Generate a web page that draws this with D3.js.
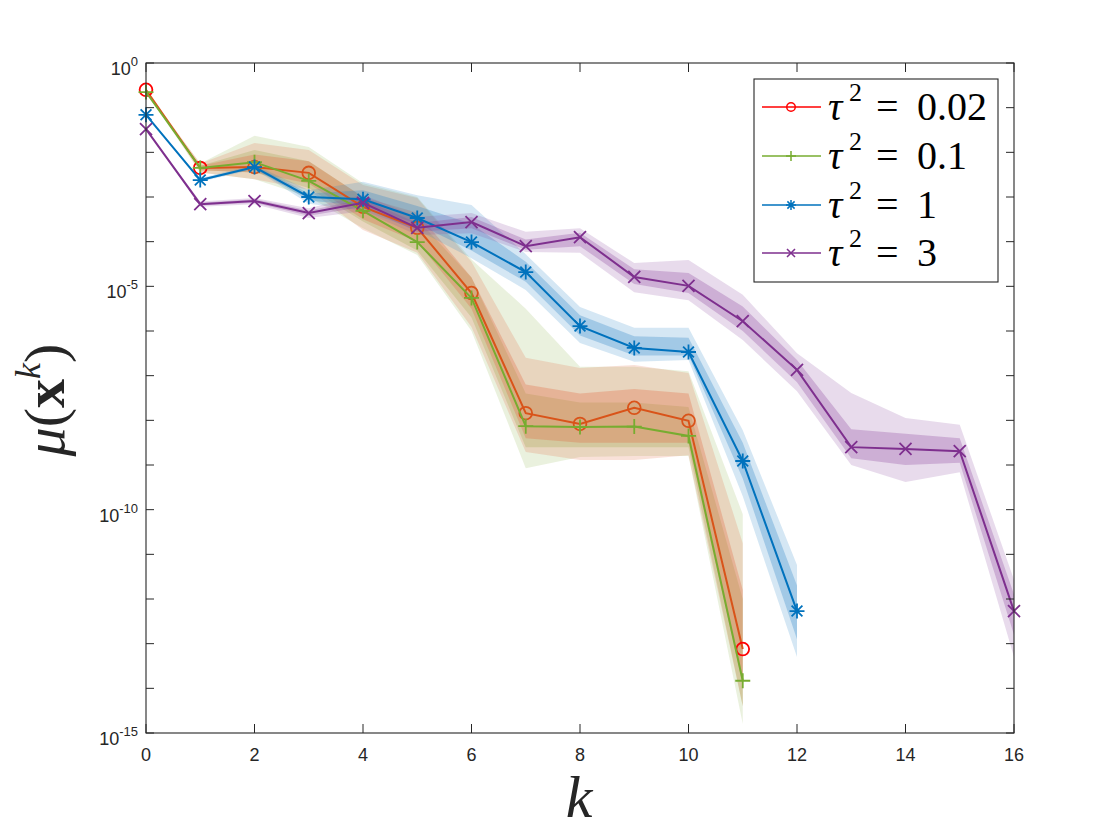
<!DOCTYPE html>
<html><head><meta charset="utf-8">
<script src="https://cdn.jsdelivr.net/npm/d3@7"></script>
<style>body{margin:0;background:#fff}svg{display:block}</style>
</head><body>
<svg id="c" width="1120" height="840"></svg>
<script>
// values stored as log10 exponents of mu(x^k)
const kTicks = [0,2,4,6,8,10,12,14,16];
const yTickExps = [0,-5,-10,-15];
const seriesLabels = ["0.02","0.1","1","3"];

const redVal  = [-0.60,-2.35,-2.33,-2.46,-3.22,-3.69,-5.15,-7.84,-8.08,-7.72,-8.01,-13.12];
const redHi   = [-0.60,-2.25,-1.79,-1.95,-2.73,-3.02,-4.45,-6.60,-6.83,-6.76,-6.94,-10.75];
const redLo   = [-0.60,-2.45,-2.60,-2.84,-3.74,-4.25,-5.91,-8.71,-8.89,-8.89,-8.78,-14.40];
const redHi2  = [-0.60,-2.30,-2.05,-2.20,-3.00,-3.35,-4.80,-7.20,-7.40,-7.30,-7.40,-11.80];
const redLo2  = [-0.60,-2.40,-2.45,-2.70,-3.50,-4.00,-5.50,-8.40,-8.50,-8.50,-8.50,-13.90];

const grnVal  = [-0.65,-2.35,-2.22,-2.64,-3.31,-4.01,-5.26,-8.13,-8.15,-8.14,-8.35,-13.83];
const grnHi   = [-0.65,-2.25,-1.63,-1.88,-2.69,-3.00,-4.40,-5.50,-6.80,-6.80,-6.90,-10.10];
const grnLo   = [-0.65,-2.45,-2.60,-3.00,-3.70,-4.30,-6.00,-9.07,-8.82,-8.80,-8.80,-14.80];
const grnHi2  = [-0.65,-2.30,-1.95,-2.20,-3.00,-3.50,-4.80,-7.40,-7.60,-7.60,-7.70,-12.00];
const grnLo2  = [-0.65,-2.40,-2.45,-2.80,-3.55,-4.20,-5.70,-8.60,-8.60,-8.60,-8.60,-14.40];

const bluVal  = [-1.16,-2.62,-2.33,-3.00,-3.05,-3.47,-4.01,-4.68,-5.89,-6.38,-6.47,-8.91,-12.27];
const bluHi   = [-1.16,-2.58,-2.28,-2.85,-2.66,-2.96,-3.18,-4.28,-5.46,-5.93,-5.93,-8.22,-11.24];
const bluLo   = [-1.16,-2.66,-2.38,-3.15,-3.30,-3.74,-4.37,-5.08,-6.27,-6.69,-6.65,-9.70,-13.30];
const bluHi2  = [-1.16,-2.60,-2.30,-2.92,-2.85,-3.20,-3.60,-4.45,-5.65,-6.12,-6.15,-8.50,-11.70];
const bluLo2  = [-1.16,-2.64,-2.36,-3.08,-3.20,-3.60,-4.20,-4.90,-6.10,-6.55,-6.55,-9.30,-12.90];

const purVal  = [-1.48,-3.16,-3.09,-3.36,-3.13,-3.69,-3.56,-4.10,-3.90,-4.79,-4.99,-5.78,-6.87,-8.60,-8.64,-8.69,-12.27];
const purHi   = [-1.48,-3.10,-3.02,-3.25,-2.95,-3.45,-3.36,-3.78,-3.70,-4.48,-4.41,-5.19,-6.50,-7.39,-7.95,-8.10,-11.57];
const purLo   = [-1.48,-3.22,-3.16,-3.47,-3.32,-3.85,-3.81,-4.23,-4.25,-5.13,-5.31,-6.20,-7.35,-9.00,-9.38,-9.16,-13.30];
const purHi2  = [-1.48,-3.13,-3.05,-3.30,-3.05,-3.58,-3.45,-3.95,-3.80,-4.62,-4.70,-5.45,-6.65,-8.20,-8.30,-8.40,-11.90];
const purLo2  = [-1.48,-3.19,-3.13,-3.42,-3.22,-3.78,-3.70,-4.18,-4.10,-4.95,-5.15,-6.00,-7.15,-8.85,-9.00,-8.95,-12.80];

const series = [
  {label:seriesLabels[0], val:redVal, hi:redHi, lo:redLo, hi2:redHi2, lo2:redLo2, color:"#D95319", band:"#E2683F", legend:"#FF0000", marker:"circle"},
  {label:seriesLabels[1], val:grnVal, hi:grnHi, lo:grnLo, hi2:grnHi2, lo2:grnLo2, color:"#77AC30", band:"#94B85A", legend:"#77AC30", marker:"plus"},
  {label:seriesLabels[2], val:bluVal, hi:bluHi, lo:bluLo, hi2:bluHi2, lo2:bluLo2, color:"#0072BD", band:"#2E86C8", legend:"#0072BD", marker:"star"},
  {label:seriesLabels[3], val:purVal, hi:purHi, lo:purLo, hi2:purHi2, lo2:purLo2, color:"#7E2F8E", band:"#8E4A9E", legend:"#7E2F8E", marker:"cross"}
];
const bandOrder = [1,0,2,3];

const svg = d3.select("#c");
const L=146, R=1014, T=63, B=733;
const x = d3.scaleLinear().domain([0,16]).range([L,R]);
const y = d3.scaleLog().domain([1e-15,1]).range([B,T]);
const p = e => Math.pow(10,e);

const gBands = svg.append("g");
bandOrder.forEach(bi=>{
  const s = series[bi];
  const idx = d3.range(s.val.length);
  const area = (hi,lo)=>d3.area().x(i=>x(i)).y0(i=>y(p(lo[i]))).y1(i=>y(p(hi[i])))(idx);
  gBands.append("path").attr("d",area(s.hi,s.lo)).attr("fill",s.band).attr("fill-opacity",0.2);
  gBands.append("path").attr("d",area(s.hi2,s.lo2)).attr("fill",s.band).attr("fill-opacity",0.3);
});

function markerPath(type, r){
  if(type==="plus") return `M${-r},0H${r}M0,${-r}V${r}`;
  if(type==="cross"){const a=r*0.8;return `M${-a},${-a}L${a},${a}M${-a},${a}L${a},${-a}`;}
  if(type==="star"){const a=r*0.72;return `M${-r},0H${r}M0,${-r}V${r}M${-a},${-a}L${a},${a}M${-a},${a}L${a},${-a}`;}
  return "";
}
function drawMarker(g, type, cx, cy, r, color, sw){
  if(type==="circle") g.append("circle").attr("cx",cx).attr("cy",cy).attr("r",r*0.85).attr("fill","none").attr("stroke",color).attr("stroke-width",sw);
  else g.append("path").attr("transform",`translate(${cx},${cy})`).attr("d",markerPath(type,r)).attr("fill","none").attr("stroke",color).attr("stroke-width",sw);
}

const gLines = svg.append("g");
series.forEach((s,si)=>{
  const idx = d3.range(s.val.length);
  gLines.append("path").attr("d",d3.line().x(i=>x(i)).y(i=>y(p(s.val[i])))(idx))
    .attr("fill","none").attr("stroke",s.color).attr("stroke-width",2);
  idx.forEach(i=>{
    let c = s.color;
    if(si===0 && (i===0||i===1||i===s.val.length-1)) c = "#FF0000";
    drawMarker(gLines, s.marker, x(i), y(p(s.val[i])), 7.5, c, 1.8);
  });
});

// axes box
const ax = svg.append("g").attr("stroke","#262626").attr("fill","none");
ax.append("rect").attr("x",L).attr("y",T).attr("width",R-L).attr("height",B-T).attr("stroke-width",1.1);
kTicks.forEach(k=>{
  ax.append("line").attr("x1",x(k)).attr("x2",x(k)).attr("y1",B).attr("y2",B-9);
  ax.append("line").attr("x1",x(k)).attr("x2",x(k)).attr("y1",T).attr("y2",T+9);
});
d3.range(-15,1).forEach(e=>{
  ax.append("line").attr("x1",L).attr("x2",L+8).attr("y1",y(p(e))).attr("y2",y(p(e)));
  ax.append("line").attr("x1",R).attr("x2",R-8).attr("y1",y(p(e))).attr("y2",y(p(e)));
});

const tf = "'Liberation Sans', Arial, Helvetica, sans-serif";
kTicks.forEach(k=>{
  svg.append("text").attr("x",x(k)).attr("y",761).attr("text-anchor","middle")
    .attr("font-family",tf).attr("font-size",18).attr("fill","#262626").text(k);
});
yTickExps.forEach(e=>{
  const t = svg.append("text").attr("x",138).attr("y",y(p(e))+12).attr("text-anchor","end")
    .attr("font-family",tf).attr("font-size",18).attr("fill","#262626");
  t.append("tspan").text("10");
  t.append("tspan").attr("dy",-9).attr("font-size",13).text(String(e));
});

const sf = "'Liberation Serif', 'DejaVu Serif', serif";
svg.append("text").attr("x",579).attr("y",817).attr("text-anchor","middle")
  .attr("font-family",sf).attr("font-style","italic").attr("font-size",60).attr("fill","#262626").text("k");

const yl = svg.append("text").attr("transform","translate(64,400) rotate(-90)").attr("text-anchor","middle")
  .attr("font-family",sf).attr("font-size",58).attr("fill","#262626");
yl.append("tspan").attr("font-style","italic").text("μ");
yl.append("tspan").text("(");
yl.append("tspan").attr("font-weight","bold").text("x");
yl.append("tspan").attr("font-style","italic").attr("font-size",36).attr("dy",-24).text("k");
yl.append("tspan").attr("dy",24).text(")");

// legend
const lg = svg.append("g");
lg.append("rect").attr("x",754).attr("y",79).attr("width",244).attr("height",203)
  .attr("fill","#fff").attr("stroke","#262626").attr("stroke-width",1.1);
const legY = [107,156,205,253];
series.forEach((s,i)=>{
  const yy = legY[i];
  lg.append("line").attr("x1",762).attr("x2",821).attr("y1",yy).attr("y2",yy).attr("stroke",s.legend).attr("stroke-width",1.6);
  drawMarker(lg, s.marker, 791, yy, 5, s.legend, 1.5);
  const base = yy+13;
  lg.append("text").attr("x",828).attr("y",base).attr("font-family",sf).attr("font-style","italic")
    .attr("font-size",40).attr("fill","#000").text("τ");
  lg.append("text").attr("x",849).attr("y",base-19).attr("font-family",sf)
    .attr("font-size",26).attr("fill","#000").text("2");
  lg.append("text").attr("x",876).attr("y",base).attr("font-family",sf)
    .attr("font-size",40).attr("fill","#000").text("=");
  lg.append("text").attr("x",917).attr("y",base).attr("font-family",sf)
    .attr("font-size",40).attr("fill","#000").text(s.label);
});
</script>
</body></html>
